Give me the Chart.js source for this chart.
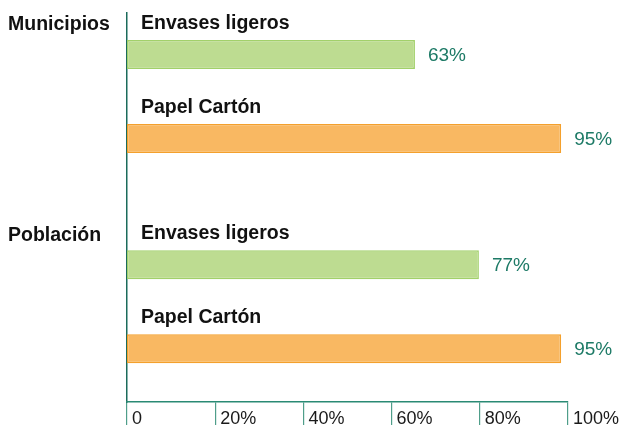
<!DOCTYPE html>
<html>
<head>
<meta charset="utf-8">
<script src="https://cdn.jsdelivr.net/npm/chart.js@4"></script>
<style>
  html, body { margin: 0; padding: 0; background: #fff; overflow: hidden; }
  #wrap { position: relative; width: 641px; height: 425px; }
</style>
</head>
<body>
<div id="wrap"><canvas id="barChart"></canvas></div>
<script>
/* data */
const groups = ['Municipios', 'Población'];
const seriesNames = ['Envases ligeros', 'Papel Cartón'];
const envases = [63, 77];
const papel = [95, 95];
const tickLabels = ['0', '20%', '40%', '60%', '80%', '100%'];

const TEAL = '#1d7a66';
const FONT = '"Liberation Sans", Arial, Helvetica, sans-serif';

/* series name above each bar, value to the right */
const barLabels = {
  id: 'barLabels',
  afterDatasetsDraw(chart) {
    const ctx = chart.ctx;
    const left = chart.chartArea.left;
    ctx.save();
    ctx.textBaseline = 'middle';
    chart.data.datasets.forEach((ds, di) => {
      const meta = chart.getDatasetMeta(di);
      meta.data.forEach((bar, i) => {
        ctx.font = 'bold 19.5px ' + FONT;
        ctx.fillStyle = '#111';
        ctx.textAlign = 'left';
        ctx.fillText(ds.label, left + 14, bar.y - 31);
        ctx.font = '19px ' + FONT;
        ctx.fillStyle = TEAL;
        ctx.fillText(ds.data[i].x + '%', bar.x + 13, bar.y + 1);
      });
    });
    ctx.restore();
  }
};

(function(){
  const canvas = document.getElementById('barChart');
  if(!canvas) return;
  new Chart(canvas.getContext('2d'), {
    type: 'bar',
    data: {
      datasets: [{
        label: seriesNames[0],
        data: envases.map((v, i) => ({ x: v, y: i })),
        backgroundColor: '#bddc91',
        borderColor: '#a2d06a',
        borderWidth: 1.5,
        borderSkipped: false
      }, {
        label: seriesNames[1],
        data: papel.map((v, i) => ({ x: v, y: i })),
        backgroundColor: '#f9b862',
        borderColor: '#f4a02c',
        borderWidth: 1.5,
        borderSkipped: false
      }]
    },
    options: {
      indexAxis: 'y',
      responsive: true,
      maintainAspectRatio: false,
      animation: false,
      categoryPercentage: 0.8,
      barPercentage: 0.345,
      layout: { padding: { left: 8, top: 13, right: 73, bottom: 0 } },
      plugins: { legend: { display: false }, tooltip: { enabled: false } },
      scales: {
        y: {
          type: 'linear',
          reverse: true,
          offset: false,
          min: -0.397,
          max: 1.453,
          afterFit: (s) => { s.width = 119; },
          afterBuildTicks: (s) => { s.ticks = groups.map((g, i) => ({ value: i - 0.34 })); },
          grid: { offset: false, drawOnChartArea: false, drawTicks: false },
          border: { display: true, color: '#1b6b5b', width: 1.5 },
          ticks: {
            crossAlign: 'far',
            padding: 0,
            color: '#111',
            font: { family: FONT, size: 19.5, weight: 'bold' },
            callback: (v, i) => groups[i]
          }
        },
        x: {
          display: false,
          min: 0,
          max: 96.5
        },
        x2: {
          axis: 'x',
          position: 'bottom',
          min: 0,
          max: 100,
          afterFit: (s) => { s.height = 23; },
          grid: { drawOnChartArea: false, drawTicks: true, tickLength: 23, color: '#4f9e8a', lineWidth: 1.2 },
          border: { display: true, color: '#2a8a74', width: 1.5 },
          ticks: {
            stepSize: 20,
            autoSkip: false,
            maxRotation: 0,
            align: 'start',
            labelOffset: 5,
            padding: -17,
            color: '#1a1a1a',
            font: { family: FONT, size: 18 },
            callback: (v, i) => tickLabels[i]
          }
        }
      }
    },
    plugins: [barLabels]
  });
})();
</script>
</body>
</html>
